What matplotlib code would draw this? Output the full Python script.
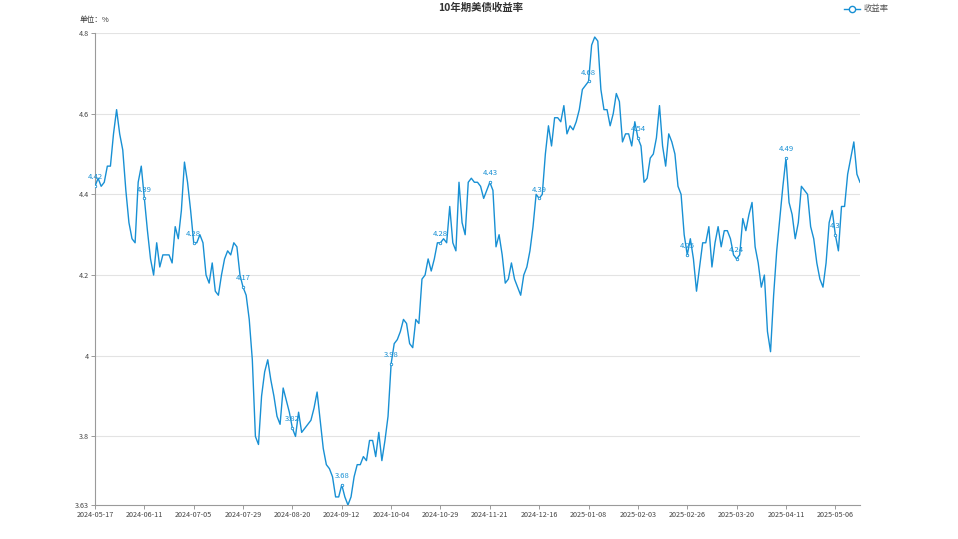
import numpy as np
import matplotlib.pyplot as plt
from matplotlib.lines import Line2D

plt.rcParams['font.family'] = ['Noto Sans CJK SC', 'DejaVu Sans']

# 10-year treasury yield, one value per trading day (2024-05-17 .. 2025-05-16)
yields = [
    4.42, 4.44, 4.42, 4.43, 4.47, 4.47, 4.55, 4.61, 4.55, 4.51,
    4.41, 4.33, 4.29, 4.28, 4.43, 4.47, 4.39, 4.31, 4.24, 4.20,
    4.28, 4.22, 4.25, 4.25, 4.25, 4.23, 4.32, 4.29, 4.36, 4.48,
    4.43, 4.36, 4.28, 4.28, 4.30, 4.28, 4.20, 4.18, 4.23, 4.16,
    4.15, 4.20, 4.24, 4.26, 4.25, 4.28, 4.27, 4.20, 4.17, 4.15,
    4.09, 3.99, 3.80, 3.78, 3.90, 3.96, 3.99, 3.94, 3.90, 3.85,
    3.83, 3.92, 3.89, 3.86, 3.82, 3.80, 3.86, 3.81, 3.82, 3.83,
    3.84, 3.87, 3.91, 3.84, 3.77, 3.73, 3.72, 3.70, 3.65, 3.65,
    3.68, 3.65, 3.63, 3.65, 3.70, 3.73, 3.73, 3.75, 3.74, 3.79,
    3.79, 3.75, 3.81, 3.74, 3.79, 3.85, 3.98, 4.03, 4.04, 4.06,
    4.09, 4.08, 4.03, 4.02, 4.09, 4.08, 4.19, 4.20, 4.24, 4.21,
    4.24, 4.28, 4.28, 4.29, 4.28, 4.37, 4.28, 4.26, 4.43, 4.33,
    4.30, 4.43, 4.44, 4.43, 4.43, 4.42, 4.39, 4.41, 4.43, 4.41,
    4.27, 4.30, 4.25, 4.18, 4.19, 4.23, 4.19, 4.17, 4.15, 4.20,
    4.22, 4.26, 4.32, 4.40, 4.39, 4.40, 4.50, 4.57, 4.52, 4.59,
    4.59, 4.58, 4.62, 4.55, 4.57, 4.56, 4.58, 4.61, 4.66, 4.67,
    4.68, 4.77, 4.79, 4.78, 4.66, 4.61, 4.61, 4.57, 4.60, 4.65,
    4.63, 4.53, 4.55, 4.55, 4.52, 4.58, 4.54, 4.52, 4.43, 4.44,
    4.49, 4.50, 4.54, 4.62, 4.52, 4.47, 4.55, 4.53, 4.50, 4.42,
    4.40, 4.30, 4.25, 4.29, 4.24, 4.16, 4.22, 4.28, 4.28, 4.32,
    4.22, 4.28, 4.32, 4.27, 4.31, 4.31, 4.29, 4.25, 4.24, 4.25,
    4.34, 4.31, 4.35, 4.38, 4.27, 4.23, 4.17, 4.20, 4.06, 4.01,
    4.15, 4.26, 4.34, 4.42, 4.49, 4.38, 4.35, 4.29, 4.33, 4.42,
    4.41, 4.40, 4.32, 4.29, 4.23, 4.19, 4.17, 4.23, 4.33, 4.36,
    4.30, 4.26, 4.37, 4.37, 4.45, 4.49, 4.53, 4.45, 4.43,
]

# axis labels shown every 16th trading day
tick_dates = [
    '2024-05-17', '2024-06-11', '2024-07-05', '2024-07-29', '2024-08-20',
    '2024-09-12', '2024-10-04', '2024-10-29', '2024-11-21', '2024-12-16',
    '2025-01-08', '2025-02-03', '2025-02-26', '2025-03-20', '2025-04-11',
    '2025-05-06',
]
label_step = 16

y_ticks = [3.63, 3.8, 4.0, 4.2, 4.4, 4.6, 4.8]

line_color = '#1890d4'
x = np.arange(len(yields))
ticks = x[::label_step]

fig = plt.figure(figsize=(9.58, 5.39), dpi=100)
ax = fig.add_axes([95 / 958, 34 / 539, 765 / 958, 472 / 539])

for yv in y_ticks[1:]:
    ax.axhline(yv, color='#e3e3e3', lw=0.8, zorder=0)

ax.plot(x, yields, color=line_color, lw=1.0, zorder=3)
ax.plot(ticks, [yields[i] for i in ticks], linestyle='none', marker='o',
        markersize=1.8, markerfacecolor='white', markeredgecolor=line_color,
        markeredgewidth=0.6, zorder=4)

for i in ticks:
    ax.annotate(f'{yields[i]:g}', (i, yields[i]), xytext=(0, 3.5),
                textcoords='offset points', ha='center', va='bottom',
                fontsize=5.5, color=line_color, zorder=5)

ax.set_xlim(0, len(yields) - 1)
ax.set_ylim(3.63, 4.8)
ax.set_xticks(ticks)
ax.set_xticklabels(tick_dates)
ax.set_yticks(y_ticks)
ax.set_yticklabels([f'{v:g}' for v in y_ticks])

for side in ['top', 'right']:
    ax.spines[side].set_visible(False)
for side in ['left', 'bottom']:
    ax.spines[side].set_color('#9a9a9a')
    ax.spines[side].set_linewidth(0.8)
ax.tick_params(axis='both', colors='#9a9a9a', labelcolor='#444444',
               labelsize=5.2, length=3, width=0.7, pad=1.5)

fig.text(481 / 958, 1 - 8 / 539, '10年期美债收益率', ha='center', va='center',
         fontsize=7.5, fontweight='bold', color='#333333')
fig.text(80 / 958, 1 - 20 / 539, '单位：%', ha='left', va='center',
         fontsize=5.5, color='#333333')

handle = Line2D([0], [0], color=line_color, lw=1.0, marker='o', markersize=4.5,
                markerfacecolor='white', markeredgecolor=line_color)
fig.legend([handle], ['收益率'], loc='center left',
           bbox_to_anchor=(836 / 958, 1 - 9 / 539), frameon=False,
           fontsize=6, handlelength=2.0, handletextpad=0.4, labelcolor='#555555')

fig.savefig('out.png', dpi=100)
